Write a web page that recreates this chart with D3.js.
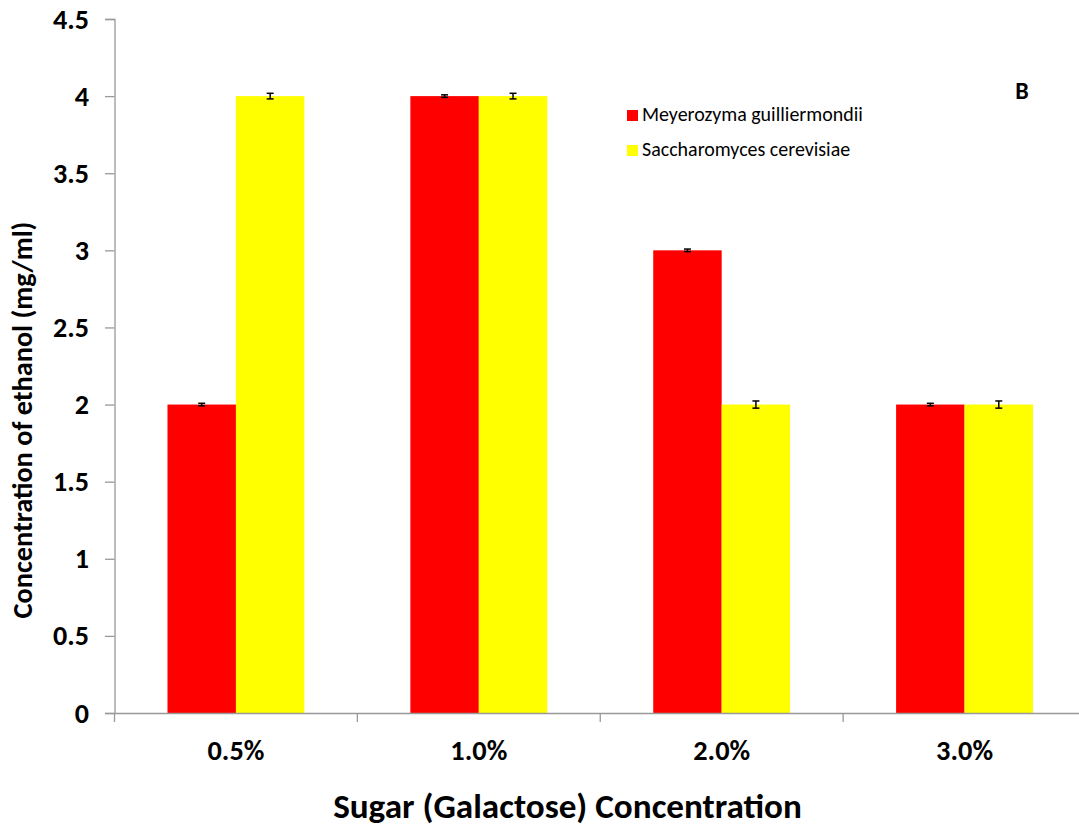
<!DOCTYPE html>
<html>
<head>
<meta charset="utf-8">
<script src="https://cdn.jsdelivr.net/npm/d3@7"></script>
<style>
  html, body { margin: 0; padding: 0; background: #fff; }
  svg { display: block; font-family: Carlito, Lato, "Open Sans", sans-serif; }
</style>
</head>
<body>
<svg id="chart" width="1079" height="828"></svg>
<script>
const categories = ["0.5%", "1.0%", "2.0%", "3.0%"];
const seriesNames = ["Meyerozyma guilliermondii", "Saccharomyces cerevisiae"];
const seriesColors = ["#ff0000", "#ffff00"];
const meyerozyma = [2.0, 4.0, 3.0, 2.0];
const saccharomyces = [4.0, 4.0, 2.0, 2.0];
const meyerozymaErr = [0.005, 0.005, 0.005, 0.005];
const saccharomycesErr = [0.015, 0.015, 0.02, 0.02];
const yTicks = [0, 0.5, 1, 1.5, 2, 2.5, 3, 3.5, 4, 4.5];
const yTickLabels = ["0", "0.5", "1", "1.5", "2", "2.5", "3", "3.5", "4", "4.5"];

(function () {
const values = [meyerozyma, saccharomyces];
const errors = [meyerozymaErr, saccharomycesErr];
const FONT = "Carlito, Lato, 'Open Sans', sans-serif";

const svg = d3.select("#chart");
const mLeft = 114.5, mRight = 1086, mTop = 19, mBottom = 713;

function fit(sel, target) {
  const base = 20;
  sel.attr("font-size", base);
  const w = sel.node().getComputedTextLength();
  const fs = base * target / w;
  sel.attr("font-size", fs);
  return fs;
}

const x = d3.scaleBand().domain(categories).range([mLeft, mRight]).padding(0);
const xs = d3.scaleBand().domain(seriesNames).range([0, x.bandwidth()]).paddingInner(0).paddingOuter(0.774);
const y = d3.scaleLinear().domain([0, 4.5]).range([mBottom, mTop]);

const groups = svg.append("g").selectAll("g").data(categories).join("g")
  .attr("transform", d => `translate(${x(d)},0)`);
seriesNames.forEach((s, si) => {
  groups.append("rect")
    .attr("x", xs(s))
    .attr("width", xs.bandwidth())
    .attr("y", (d, i) => y(values[si][i]))
    .attr("height", (d, i) => y(0) - y(values[si][i]))
    .attr("fill", seriesColors[si]);
});
seriesNames.forEach((s, si) => {
  groups.each(function (d, i) {
    const g = d3.select(this);
    const cx = xs(s) + xs.bandwidth() / 2;
    const v = values[si][i], e = errors[si][i];
    const y1 = y(v + e), y2 = y(v - e);
    g.append("line").attr("x1", cx).attr("x2", cx).attr("y1", y1 - 0.5).attr("y2", y2 + 0.5)
      .attr("stroke", "#000").attr("stroke-width", 1.5);
    [y1 - 0.5, y2 + 0.5].forEach(yy => {
      g.append("line").attr("x1", cx - 3.5).attr("x2", cx + 3.5).attr("y1", yy).attr("y2", yy)
        .attr("stroke", "#000").attr("stroke-width", 1.5);
    });
  });
});

const yAxis = d3.axisLeft(y).tickValues(yTicks).tickFormat((d, i) => yTickLabels[i]).tickSizeOuter(0).tickSize(9.5).tickPadding(16);
const gy = svg.append("g").attr("transform", `translate(${mLeft},0)`).call(yAxis);
gy.select(".domain").attr("stroke", "#999").attr("stroke-width", 1.3);
gy.selectAll(".tick line").attr("stroke", "#999").attr("stroke-width", 1.3);
const yLabels = gy.selectAll(".tick text").attr("font-weight", "bold").attr("fill", "#000").attr("font-family", FONT);
const yfs = fit(yLabels.filter(d => d === 4.5), 36);
yLabels.attr("font-size", yfs);

const xAxis = d3.axisBottom(x).tickSize(0).tickPadding(0).tickSizeOuter(0);
const gx = svg.append("g").attr("transform", `translate(0,${mBottom})`).call(xAxis);
gx.select(".domain").attr("stroke", "#999").attr("stroke-width", 1.3);
const xLabels = gx.selectAll(".tick text").attr("font-weight", "bold").attr("fill", "#000")
  .attr("font-family", FONT).attr("dy", null).attr("y", 47);
const xfs = fit(xLabels.filter(d => d === "0.5%"), 57);
xLabels.attr("font-size", xfs);
const boundaries = categories.map(c => x(c));
svg.append("g").selectAll("line").data(boundaries).join("line")
  .attr("x1", d => d).attr("x2", d => d).attr("y1", mBottom).attr("y2", mBottom + 9)
  .attr("stroke", "#999").attr("stroke-width", 1.3);

const xt = svg.append("text").attr("x", (333 + 802) / 2).attr("y", 818).attr("text-anchor", "middle")
  .attr("font-weight", "bold").attr("fill", "#000")
  .text("Sugar (Galactose) Concentration");
fit(xt, 469);
const yt = svg.append("text").attr("transform", "translate(32,420) rotate(-90)").attr("text-anchor", "middle")
  .attr("font-weight", "bold").attr("fill", "#000")
  .text("Concentration of ethanol (mg/ml)");
fit(yt, 397);

const legend = svg.append("g").attr("transform", "translate(627,110)");
seriesNames.forEach((s, i) => {
  const g = legend.append("g").attr("transform", `translate(0,${i * 35})`);
  g.append("rect").attr("width", 11).attr("height", 11).attr("fill", seriesColors[i]);
  const t = g.append("text").attr("x", 15).attr("y", 11).attr("fill", "#000").text(s);
  if (i === 0) fit(t, 221);
});
const lfs = legend.select("text").attr("font-size");
legend.selectAll("text").attr("font-size", lfs);

svg.append("text").attr("x", 1022).attr("y", 99).attr("text-anchor", "middle")
  .attr("font-size", 24).attr("font-weight", "bold").attr("fill", "#000").text("B");
})();
</script>
</body>
</html>
